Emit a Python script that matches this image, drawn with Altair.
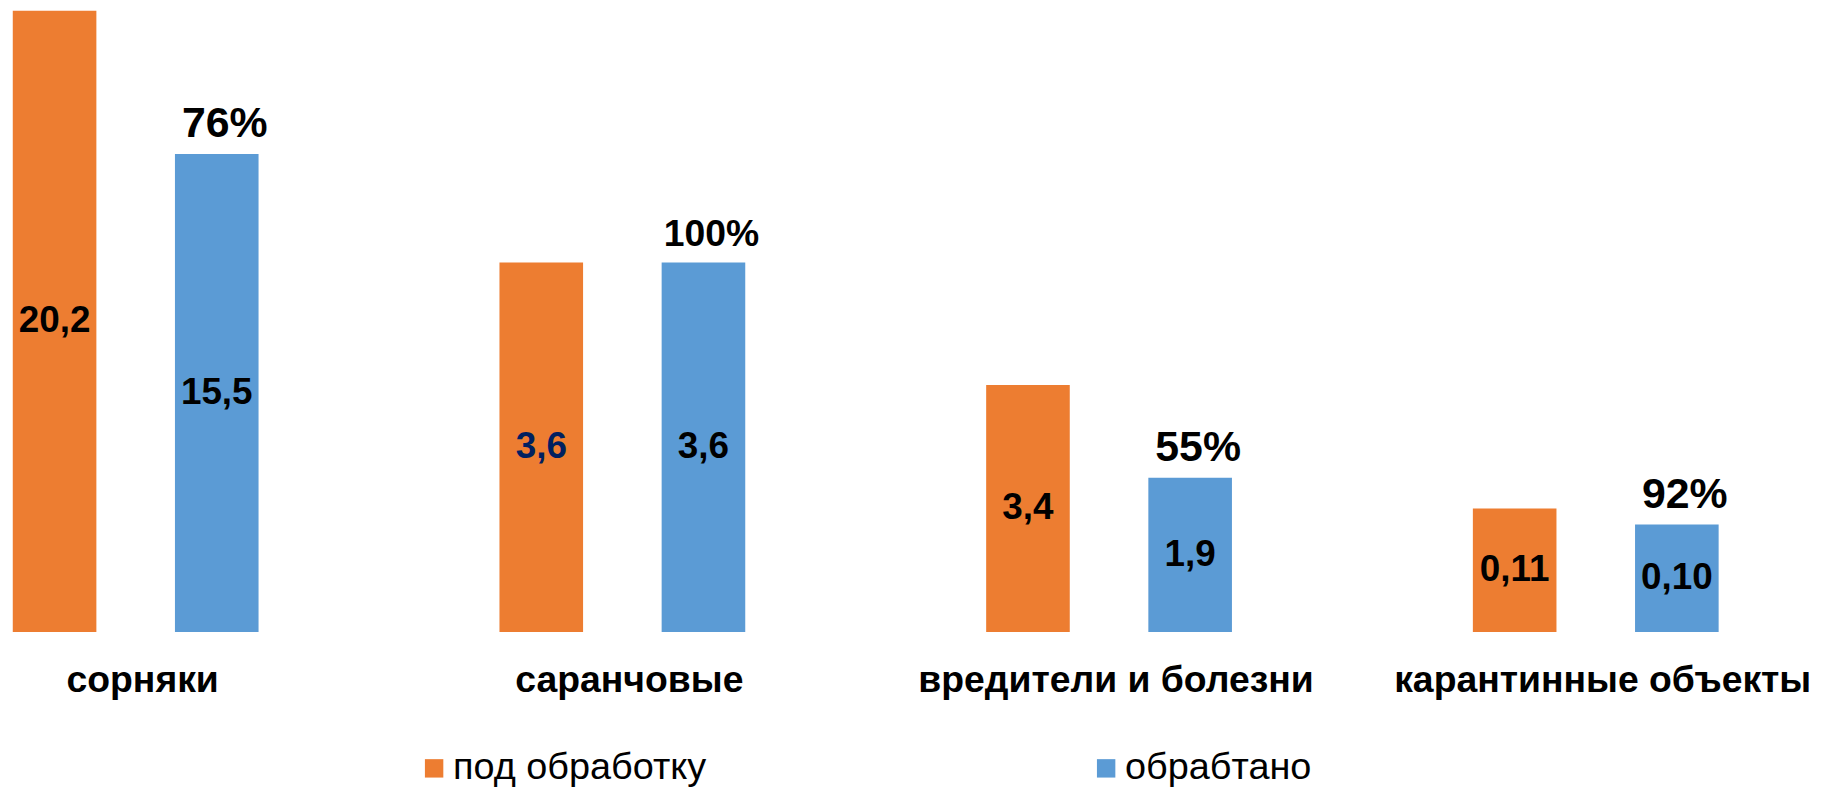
import altair as alt
import pandas as pd

# ---- data ----
categories = ["сорняки", "саранчовые", "вредители и болезни", "карантинные объекты"]
series = ["под обработку", "обрабтано"]
# bar heights as drawn in the picture (drawing units)
height_planned = [624, 371, 248, 124]
height_done = [480, 371, 155, 108]
# printed labels
label_planned = ["20,2", "3,6", "3,4", "0,11"]
label_done = ["15,5", "3,6", "1,9", "0,10"]
percent_done = ["76%", "100%", "55%", "92%"]

rows = []
for i, c in enumerate(categories):
    rows.append({"group": c, "series": series[0], "h": height_planned[i],
                 "label": label_planned[i], "pct": ""})
    rows.append({"group": c, "series": series[1], "h": height_done[i],
                 "label": label_done[i], "pct": percent_done[i]})
df = pd.DataFrame(rows)

FONT = "Liberation Sans"
ORANGE = "#ED7D31"
BLUE = "#5B9BD5"
NAVY = "#002060"

x = alt.X(
    "group:N",
    sort=categories,
    scale=alt.Scale(domain=categories, paddingInner=0.495, paddingOuter=0.0098),
    axis=alt.Axis(
        title=None, labelAngle=0, labelFont=FONT, labelFontSize=37.5,
        labelFontWeight="bold", labelColor="black", domain=False, ticks=False,
        tickSize=0, labelPadding=30, labelLimit=700, labelOverlap=False, grid=False,
        labelOffset=7,
    ),
)
xo = alt.XOffset(
    "series:N", sort=series,
    scale=alt.Scale(domain=series, paddingInner=0.4845, paddingOuter=0),
)
yscale = alt.Scale(domain=[0, 625], nice=False)

base = alt.Chart(df)

bars = base.mark_bar().encode(
    x=x,
    xOffset=xo,
    y=alt.Y("h:Q", scale=yscale, axis=None),
    color=alt.Color(
        "series:N", sort=series,
        scale=alt.Scale(domain=series, range=[ORANGE, BLUE]),
        legend=alt.Legend(
            title=None, orient="none", legendX=409, legendY=743,
            direction="horizontal", symbolType="square", symbolSize=342,
            symbolStrokeWidth=0, labelFont=FONT, labelFontSize=38,
            labelColor="black", labelOffset=0, columnPadding=382,
            labelLimit=600, padding=0,
        ),
    ),
)

values = base.transform_calculate(mid="datum.h / 2").mark_text(
    font=FONT, fontWeight="bold", fontSize=37, baseline="middle", align="center"
).encode(
    x=x,
    xOffset=xo,
    y=alt.Y("mid:Q", scale=yscale, axis=None),
    text="label:N",
    color=alt.condition(
        "datum.group == 'саранчовые' && datum.series == 'под обработку'",
        alt.value(NAVY), alt.value("black"),
    ),
)

percents = base.transform_filter(alt.datum.series == series[1]).mark_text(
    font=FONT, fontWeight="bold", baseline="alphabetic",
    align="center", dx=8, dy=-17, color="black",
).encode(
    x=x,
    xOffset=xo,
    y=alt.Y("h:Q", scale=yscale, axis=None),
    text="pct:N",
    size=alt.condition("datum.pct == '100%'", alt.value(37.5), alt.value(43)),
)

chart = alt.layer(bars, values, percents).properties(
    width=1723,
    height=625,
    autosize=alt.AutoSizeParams(type="none"),
    padding={"left": 0, "top": 0, "right": 94, "bottom": 154},
    background="white",
).configure_view(stroke=None)

chart.save("out.html", embed_options={"renderer": "svg", "actions": False})
